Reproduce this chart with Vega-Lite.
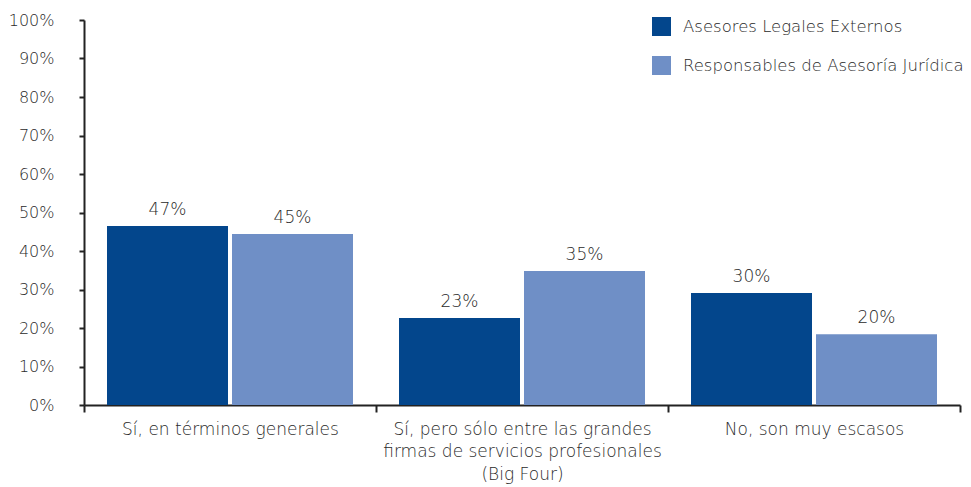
{
  "$schema": "https://vega.github.io/schema/vega-lite/v6.json",
  "width": 876,
  "height": 385,
  "autosize": {"type": "none"},
  "padding": {"left": 84, "top": 20, "right": 11, "bottom": 82},
  "background": "white",
  "config": {
    "view": {"stroke": null},
    "font": "DejaVu Sans",
    "axis": {"labelFont": "DejaVu Sans", "labelFontWeight": 300, "labelFontSize": 16, "labelColor": "#2a2a2a", "domainColor": "#222222", "tickColor": "#222222", "domainWidth": 2, "tickWidth": 2, "grid": false, "title": null},
    "legend": {"labelFont": "DejaVu Sans", "labelFontWeight": 300, "labelFontSize": 16.5, "labelColor": "#2a2a2a", "labelLimit": 0}
  },
  "data": {
    "values": [
      {"categoria": "Sí, en términos generales", "grupo": "Asesores Legales Externos", "valor": 46.5, "etiqueta": "47%"},
      {"categoria": "Sí, en términos generales", "grupo": "Responsables de Asesoría Jurídica", "valor": 44.4, "etiqueta": "45%"},
      {"categoria": "Sí, pero sólo entre las grandes firmas de servicios profesionales (Big Four)", "grupo": "Asesores Legales Externos", "valor": 22.6, "etiqueta": "23%"},
      {"categoria": "Sí, pero sólo entre las grandes firmas de servicios profesionales (Big Four)", "grupo": "Responsables de Asesoría Jurídica", "valor": 34.8, "etiqueta": "35%"},
      {"categoria": "No, son muy escasos", "grupo": "Asesores Legales Externos", "valor": 29.1, "etiqueta": "30%"},
      {"categoria": "No, son muy escasos", "grupo": "Responsables de Asesoría Jurídica", "valor": 18.4, "etiqueta": "20%"}
    ]
  },
  "encoding": {
    "x": {
      "field": "categoria", "type": "nominal", "sort": null,
      "scale": {"paddingInner": 0, "paddingOuter": 0},
      "axis": {
        "labelAngle": 0, "tickBand": "extent", "tickSize": 7, "labelPadding": 9, "labelLimit": 0, "labelLineHeight": 22.5, "labelBaseline": "top", "labelFontSize": 17,
        "labelExpr": "indexof(datum.label, 'Big Four') >= 0 ? ['Sí, pero sólo entre las grandes', 'firmas de servicios profesionales', '(Big Four)'] : datum.label"
      }
    },
    "xOffset": {"field": "grupo", "type": "nominal", "sort": null, "scale": {"paddingInner": 0.032, "paddingOuter": 0.184}},
    "y": {
      "field": "valor", "type": "quantitative",
      "scale": {"domain": [0, 100], "nice": false},
      "axis": {"values": [0, 10, 20, 30, 40, 50, 60, 70, 80, 90, 100], "labelExpr": "datum.value + '%'", "tickSize": 5, "labelPadding": 25}
    }
  },
  "layer": [
    {
      "mark": {"type": "bar"},
      "encoding": {
        "color": {
          "field": "grupo", "type": "nominal", "sort": null,
          "scale": {"range": ["#03468C", "#6F8FC6"]},
          "legend": {"title": null, "orient": "none", "legendX": 568, "legendY": -3, "symbolType": "square", "symbolSize": 361, "symbolStrokeWidth": 0, "symbolOpacity": 1, "labelOffset": 12, "rowPadding": 20}
        }
      }
    },
    {
      "mark": {"type": "text", "baseline": "bottom", "dy": -7, "fontSize": 17, "fontWeight": 300, "color": "#2a2a2a", "font": "DejaVu Sans"},
      "encoding": {"text": {"field": "etiqueta"}}
    }
  ]
}
